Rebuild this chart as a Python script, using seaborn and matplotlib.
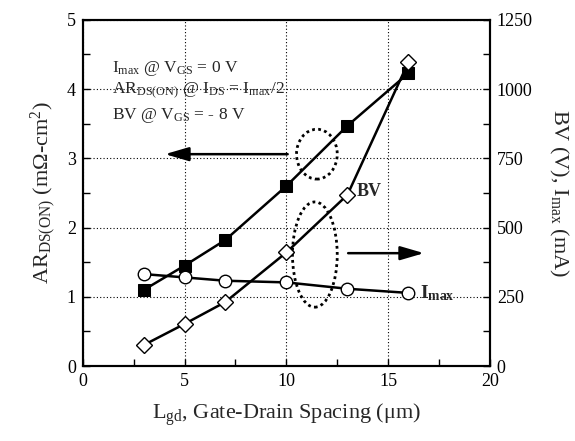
import numpy as np
import pandas as pd
import matplotlib
matplotlib.use("Agg")
import matplotlib.pyplot as plt
import seaborn as sns
from matplotlib.patches import Ellipse
from matplotlib.ticker import MultipleLocator

lgd = [3, 5, 7, 10, 13, 16]
ar_on = [1.10, 1.45, 1.82, 2.60, 3.47, 4.23]
bv = [76, 152, 231, 410, 618, 1098]
lgd_imax = [3, 5, 7, 10, 13, 16]
imax = [332, 320, 308, 302, 279, 264]

sns.set_theme(style="ticks")
plt.rcParams['font.family'] = ['Liberation Serif', 'DejaVu Serif']
plt.rcParams['mathtext.fontset'] = 'custom'
plt.rcParams['mathtext.rm'] = 'Liberation Serif'
plt.rcParams['mathtext.it'] = 'Liberation Serif:italic'
plt.rcParams['mathtext.bf'] = 'Liberation Serif:bold'

fig = plt.figure(figsize=(5.75, 4.41), dpi=100)
ax = fig.add_axes([0.144, 0.17, 0.708, 0.785])
ax2 = ax.twinx()

df_ar = pd.DataFrame({"x": lgd, "y": ar_on})
df_bv = pd.DataFrame({"x": lgd, "y": bv})
df_im = pd.DataFrame({"x": lgd_imax, "y": imax})

sns.lineplot(data=df_ar, x="x", y="y", ax=ax, color="black", lw=1.8,
             marker="s", markersize=8, markerfacecolor="black",
             markeredgecolor="black", zorder=5)
sns.lineplot(data=df_bv, x="x", y="y", ax=ax2, color="black", lw=1.8,
             marker="D", markersize=8, markerfacecolor="white",
             markeredgecolor="black", markeredgewidth=1.0, zorder=5)
sns.lineplot(data=df_im, x="x", y="y", ax=ax2, color="black", lw=1.8,
             marker="o", markersize=9, markerfacecolor="white",
             markeredgecolor="black", markeredgewidth=1.0, zorder=5)

ax.set_xlim(0, 20)
ax.set_ylim(0, 5)
ax2.set_ylim(0, 1250)
ax.xaxis.set_major_locator(MultipleLocator(5))
ax.xaxis.set_minor_locator(MultipleLocator(2.5))
ax.yaxis.set_major_locator(MultipleLocator(1))
ax.yaxis.set_minor_locator(MultipleLocator(0.5))
ax2.yaxis.set_major_locator(MultipleLocator(250))
ax2.yaxis.set_minor_locator(MultipleLocator(125))

ax.grid(True, which="major", color="black", ls=(0, (1, 2)), lw=0.8)
for a in (ax, ax2):
    for s in a.spines.values():
        s.set_linewidth(1.5)
        s.set_color("black")
ax.tick_params(which="both", direction="in", labelsize=13, colors="black",
               top=False, right=False, pad=5)
ax.tick_params(which="major", length=5, width=1)
ax.tick_params(which="minor", length=5, width=1)
ax2.tick_params(which="both", direction="in", labelsize=13, colors="black", pad=5)
ax2.tick_params(which="major", length=5, width=1)
ax2.tick_params(which="minor", length=5, width=1)

ax.set_xlabel(r"L$_{\rm gd}$, Gate-Drain Spacing (μm)", fontsize=16, labelpad=8)
ax.set_ylabel(r"AR$_{\rm DS(ON)}$ (m$\Omega$-cm$^{2}$)", fontsize=16, labelpad=6)
ax2.set_ylabel(r"BV (V), I$_{\rm max}$ (mA)", fontsize=16, rotation=270, labelpad=27)

ax.text(1.45, 4.3, r"I$_{\rm max}$ @ V$_{\rm GS}$ = 0 V", fontsize=12.5, va="center")
ax.text(1.45, 3.97, r"AR$_{\rm DS(ON)}$ @ I$_{\rm DS}$ = I$_{\rm max}$/2", fontsize=12.5, va="center")
ax.text(1.45, 3.62, r"BV @ V$_{\rm GS}$ = - 8 V", fontsize=12.5, va="center")

ax.add_patch(Ellipse((11.5, 3.06), 2.0, 0.72, fill=False, ls=(0, (1, 1.2)), lw=2, color="black"))
ax.add_patch(Ellipse((11.4, 1.61), 2.2, 1.52, fill=False, ls=(0, (1, 1.2)), lw=2, color="black"))
ax.annotate("", xy=(3.9, 3.06), xytext=(10.2, 3.06),
            arrowprops=dict(arrowstyle="-|>,head_length=1.2,head_width=0.35", color="black", lw=1.8))
ax.annotate("", xy=(16.9, 1.63), xytext=(12.9, 1.63),
            arrowprops=dict(arrowstyle="-|>,head_length=1.2,head_width=0.35", color="black", lw=1.8))

ax.text(13.45, 2.52, "BV", fontsize=13, fontweight="bold", va="center")
ax.text(16.55, 1.05, r"$\mathbf{I}_{\mathbf{max}}$", fontsize=14, va="center")

fig.savefig("out.png", dpi=100)
